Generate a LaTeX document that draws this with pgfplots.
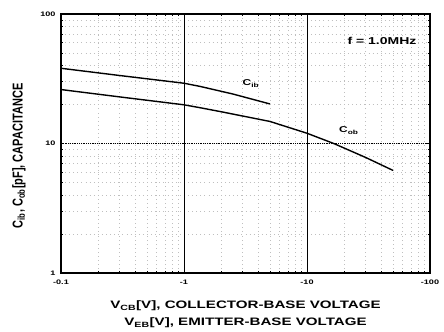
\documentclass[border=0pt]{standalone}
\usepackage{fontspec}
\setmainfont{Liberation Sans}[FakeStretch=1.4]
\newfontfamily\yfont{Liberation Sans}
\usepackage{graphicx}
\usepackage{pgfplots}
\pgfplotsset{compat=1.18}
\begin{document}
\begin{tikzpicture}
\begin{loglogaxis}[
  scale only axis, width=369pt, height=259pt,
  xmin=0.1, xmax=100, ymin=1, ymax=100,
  xtick={0.1,1,10,100}, xticklabels={-0.1,-1,-10,-100},
  ytick={1,10,100}, yticklabels={1,10,100},
  /pgf/number format/assume math mode=true,
  tick label style={font=\fontsize{6.5}{7}\selectfont\bfseries},
  xticklabel style={yshift=-3pt},
  yticklabel style={xshift=-2pt},
  axis line style={line width=1.5pt},
  tick style={black, line width=0.5pt},
  tick align=inside,
  major tick length=3pt, minor tick length=2pt,
  grid=minor,
  minor grid style={gray!50, line width=0.5pt, dash pattern=on 0.6pt off 3.5pt},
  xlabel={V\textsubscript{CB}[V], COLLECTOR-BASE VOLTAGE\\V\textsubscript{EB}[V], EMITTER-BASE VOLTAGE},
  xlabel style={align=center, font=\fontsize{10.8}{17.3}\selectfont\bfseries,
    at={(axis description cs:0.5,-0.16)}, anchor=center},
  ylabel={\scalebox{1}[1.3]{\yfont\fontsize{11}{12}\selectfont\bfseries C\textsubscript{ib}, C\textsubscript{ob}[pF], CAPACITANCE}},
  ylabel style={at={(axis description cs:-0.114,0.452)}, anchor=center},
  clip=false,
]
\path (rel axis cs:0,0) ++(-61pt,-56pt);
\path (rel axis cs:1,1) ++(14pt,14pt);
\draw[black, line width=0.9pt] (axis cs:1,1) -- (axis cs:1,100);
\draw[black, line width=0.9pt] (axis cs:10,1) -- (axis cs:10,100);
\draw[black, line width=1.1pt, dash pattern=on 1pt off 0.8pt] (axis cs:0.1,10) -- (axis cs:100,10);
% Cib
\addplot[black, line width=1.4pt] coordinates {
  (0.1,38.1) (0.3,33.5) (1,29.2) (1.35,27.6) (2.5,24.1) (5,20.2)
};
% Cob
\addplot[black, line width=1.4pt] coordinates {
  (0.1,26.1) (0.3,22.9) (1,19.9) (1.35,18.9) (2,17.6) (5,14.8) (10,12.0) (16.5,10.0) (30,7.8) (50,6.2)
};
\node[font=\fontsize{10}{11}\selectfont\bfseries] at (axis cs:40.7,62.4) {f = 1.0MHz};
\node[font=\fontsize{8.5}{10}\selectfont\bfseries] at (axis cs:3.5,29.1) {C\textsubscript{ib}};
\node[font=\fontsize{8.5}{10}\selectfont\bfseries] at (axis cs:21.9,12.6) {C\textsubscript{ob}};
\end{loglogaxis}
\end{tikzpicture}
\end{document}
